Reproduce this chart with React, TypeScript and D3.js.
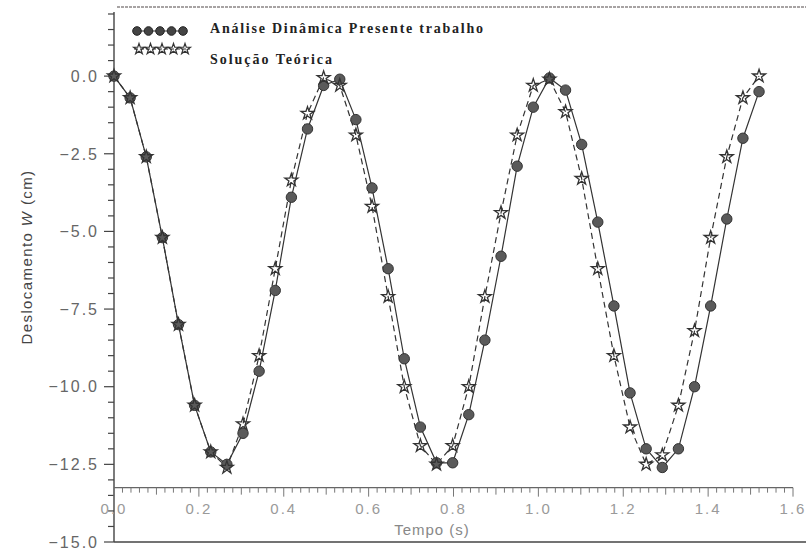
import React from "react";
import * as d3 from "d3";

const W = 806;
const H = 553;

// time (s)
const tempo = [
  0.0, 0.038, 0.076, 0.114, 0.152, 0.19, 0.228, 0.266, 0.304, 0.342,
  0.38, 0.418, 0.456, 0.494, 0.532, 0.57, 0.608, 0.646, 0.684, 0.722,
  0.76, 0.798, 0.836, 0.874, 0.912, 0.95, 0.988, 1.026, 1.064, 1.102,
  1.14, 1.178, 1.216, 1.254, 1.292, 1.33, 1.368, 1.406, 1.444, 1.482, 1.52,
];

// Análise Dinâmica Presente trabalho (cm)
const analise = [
  0.0, -0.7, -2.6, -5.2, -8.0, -10.6, -12.1, -12.5, -11.5, -9.5,
  -6.9, -3.9, -1.7, -0.3, -0.1, -1.4, -3.6, -6.2, -9.1, -11.3,
  -12.45, -12.45, -10.9, -8.5, -5.8, -2.9, -1.0, -0.06, -0.45, -2.2,
  -4.7, -7.4, -10.2, -12.0, -12.6, -12.0, -10.0, -7.4, -4.6, -2.0, -0.5,
];

// Solução Teórica (cm)
const teorica = [
  0.0, -0.7, -2.6, -5.2, -8.0, -10.6, -12.1, -12.6, -11.2, -9.0,
  -6.2, -3.35, -1.2, -0.05, -0.3, -1.9, -4.2, -7.1, -10.0, -11.9,
  -12.5, -11.9, -10.0, -7.1, -4.4, -1.9, -0.3, -0.1, -1.15, -3.3,
  -6.2, -9.0, -11.3, -12.5, -12.2, -10.6, -8.2, -5.2, -2.6, -0.7, 0.0,
];

const yTickLabels = [0, -2.5, -5, -7.5, -10, -12.5, -15];
const xTickLabels = [0, 0.2, 0.4, 0.6, 0.8, 1.0, 1.2, 1.4, 1.6];
const legendLabels = ["Análise Dinâmica Presente trabalho", "Solução Teórica"];

export default function App() {
  const x = d3.scaleLinear().domain([0, 1.6]).range([114, 793]);
  const y = d3.scaleLinear().domain([-15, 2]).range([542, 14]);
  const x0 = x(0);
  const xAxisY = y(-13.25);

  const lineA = d3
    .line<number>()
    .x((_, i) => x(tempo[i]))
    .y((d) => y(d));

  const starPath = d3.symbol().type(d3.symbolStar).size(52)()!;
  const starSmall = d3.symbol().type(d3.symbolStar).size(36)()!;

  const yMinor = d3.range(-15, 2.001, 0.5);
  const xMinor = d3.range(0, 1.6001, 0.02);

  const tickFont = "'Liberation Sans', Arial, sans-serif";

  return (
    <svg
      width={W}
      height={H}
      style={{ position: "absolute", left: 0, top: 0, background: "#fff" }}
    >
      <rect x={0} y={0} width={W} height={H} fill="#fff" />
      {/* top frame */}
      <line x1={117} x2={W} y1={7} y2={7} stroke="#8a8585" strokeWidth={1.4} strokeDasharray="3,1" />
      {/* bottom frame */}
      <line x1={x0} x2={W} y1={y(-15)} y2={y(-15)} stroke="#444" strokeWidth={1.6} />
      {/* y axis */}
      <line x1={x0} x2={x0} y1={12} y2={y(-15)} stroke="#444" strokeWidth={1.4} />
      {yMinor.map((v, i) => {
        const major = Math.abs(v / 2.5 - Math.round(v / 2.5)) < 1e-6 && v <= 0;
        return (
          <line
            key={"ym" + i}
            x1={x0 - (major ? 10 : 6)}
            x2={x0}
            y1={y(v)}
            y2={y(v)}
            stroke="#444"
            strokeWidth={1.2}
          />
        );
      })}
      {yTickLabels.map((v) => (
        <text
          key={"yl" + v}
          x={99}
          y={y(v)}
          dy="0.36em"
          textAnchor="end"
          fontFamily={tickFont}
          fontSize={16}
          letterSpacing={2}
          fill="#666"
        >
          {v === 0 ? "0.0" : "\u2212" + d3.format(".1f")(Math.abs(v))}
        </text>
      ))}
      {/* x axis (inside plot) */}
      <line x1={x0} x2={x(1.6)} y1={xAxisY} y2={xAxisY} stroke="#666" strokeWidth={1.1} />
      {xMinor.map((t, i) => {
        const major = i % 10 === 0;
        const mid = i % 5 === 0;
        return (
          <line
            key={"xm" + i}
            x1={x(t)}
            x2={x(t)}
            y1={xAxisY}
            y2={xAxisY + (major ? 9 : mid ? 7 : 5)}
            stroke="#777"
            strokeWidth={1}
          />
        );
      })}
      {xTickLabels.map((t) => (
        <text
          key={"xl" + t}
          x={x(t)}
          y={509}
          dy="0.36em"
          textAnchor="middle"
          fontFamily={tickFont}
          fontSize={15}
          letterSpacing={2}
          fill="#9a9a9a"
        >
          {d3.format(".1f")(t)}
        </text>
      ))}
      <text
        x={432}
        y={530}
        dy="0.36em"
        textAnchor="middle"
        fontFamily={tickFont}
        fontSize={15}
        letterSpacing={1}
        fill="#888"
      >
        Tempo (s)
      </text>
      <text
        transform={`translate(27,257) rotate(-90)`}
        textAnchor="middle"
        dy="0.36em"
        fontFamily={tickFont}
        fontSize={15}
        letterSpacing={1.4}
        fill="#444"
      >
        Deslocamento <tspan fontStyle="italic">W</tspan> (cm)
      </text>

      {/* series lines */}
      <path d={lineA(teorica)!} fill="none" stroke="#333" strokeWidth={1.2} strokeDasharray="6,4" />
      <path d={lineA(analise)!} fill="none" stroke="#333" strokeWidth={1.2} />

      {/* markers */}
      {analise.map((v, i) => (
        <circle key={"a" + i} cx={x(tempo[i])} cy={y(v)} r={5.2} fill="#5a5a5a" stroke="#333" strokeWidth={1} />
      ))}
      {teorica.map((v, i) => (
        <path
          key={"t" + i}
          d={starPath}
          transform={`translate(${x(tempo[i])},${y(v)})`}
          fill="none"
          stroke="#333"
          strokeWidth={1.3}
        />
      ))}

      {/* legend */}
      <line x1={134} x2={186} y1={31} y2={31} stroke="#333" strokeWidth={1.2} />
      {[0, 1, 2, 3, 4].map((k) => (
        <circle key={"lc" + k} cx={137 + k * 11.5} cy={31} r={4.3} fill="#444" stroke="#222" strokeWidth={1} />
      ))}
      <line x1={134} x2={190} y1={49} y2={49} stroke="#333" strokeWidth={1.1} strokeDasharray="4,2" />
      {[0, 1, 2, 3, 4].map((k) => (
        <path
          key={"ls" + k}
          d={starSmall}
          transform={`translate(${139 + k * 11.5},49)`}
          fill="none"
          stroke="#333"
          strokeWidth={1.2}
        />
      ))}
      <text
        x={210}
        y={33}
        fontFamily="'Liberation Serif', 'Times New Roman', serif"
        fontWeight="bold"
        fontSize={14}
        textLength={273}
        fill="#222"
      >
        {legendLabels[0]}
      </text>
      <text
        x={210}
        y={64}
        fontFamily="'Liberation Serif', 'Times New Roman', serif"
        fontWeight="bold"
        fontSize={14}
        textLength={122}
        fill="#222"
      >
        {legendLabels[1]}
      </text>
    </svg>
  );
}
